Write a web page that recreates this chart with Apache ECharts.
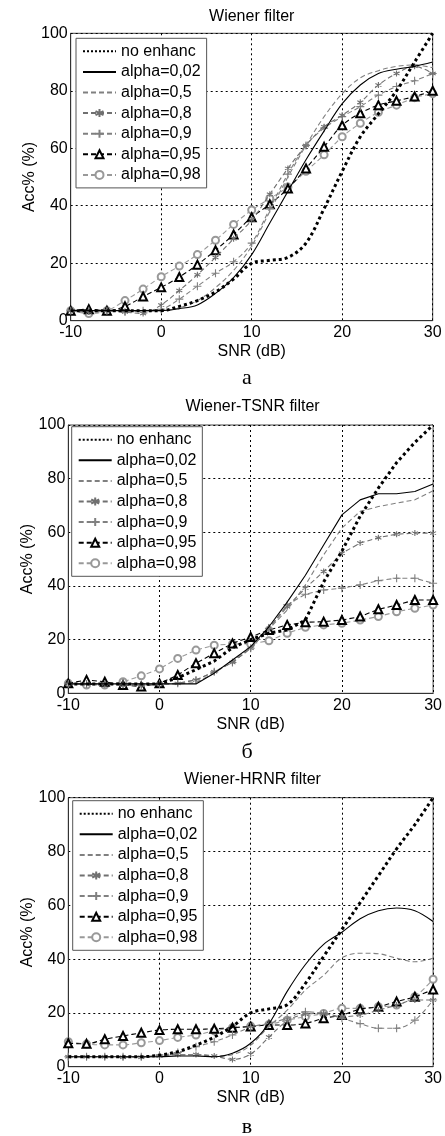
<!DOCTYPE html>
<html><head><meta charset="utf-8">
<script src="https://cdn.jsdelivr.net/npm/echarts@6/dist/echarts.min.js"></script>
<style>html,body{margin:0;padding:0;background:#fff}#c{width:445px;height:1136px}</style>
</head><body><div id="c"></div>
<script>
// ---- data ----
const snr = [-10,-8,-6,-4,-2,0,2,4,6,8,10,12,14,16,18,20,22,24,26,28,30];
const seriesNames = ['no enhanc','alpha=0,02','alpha=0,5','alpha=0,8','alpha=0,9','alpha=0,95','alpha=0,98'];
const panelTitles = ['Wiener filter','Wiener-TSNR filter','Wiener-HRNR filter'];
const captions = ['а','б','в'];
const xAxisName = 'SNR (dB)';
const yAxisName = 'Acc% (%)';

// Panel a: Wiener filter
const wNoEnh  = [3.5,3.5,3.5,3.5,3.5,3.5,5,7,10,14.5,20,21,22,27,39,52,64,72,80,90,100];
const wA002   = [3.5,3.5,3.5,3.5,3.5,3.5,4.2,5.5,9.5,15,23,34,45,56,66,75.5,82,86,87.5,88.5,90];
const wA05    = [3.5,3.5,3.5,3.5,3.5,3.5,4.5,7,11.5,17.5,26,38,50,61,71,79,84.5,87,88.5,89,88];
const wA08    = [3.5,3,3.5,3,2.5,5.5,10.5,16,22,28.5,35,44,53,61,67.5,71.5,76,82,86,88.5,86];
const wA09    = [3.5,3.5,3.5,3,3.5,4,7.5,12,16.5,20.5,27,39,51,61,67,71,74.5,78.5,81.5,83.5,86];
const wA095   = [3.5,4,3.5,5,8.4,11.6,15.2,19.5,24.5,30,36,40.5,46,53,60.5,68,72.2,75,76.5,78,80];
const wA098   = [3.5,2.5,3.5,7,11,15.3,19,23,28,33.5,38.5,42.5,46.5,52,57.7,64,68.7,72.5,75,77.6,79];

// Panel б: Wiener-TSNR filter
const tNoEnh  = [3.5,3.5,3.5,3.5,3.5,3.5,5.8,8.8,12,17,20,22.4,23.6,27.3,41.5,53,66,76.5,86,93.5,100];
const tA002   = [3.5,3.5,3.5,3.5,3.5,3.5,3.5,3.5,7.5,12.4,17.4,24.8,34,44,55.3,66.5,72.1,74.4,74.4,75.2,78];
const tA05    = [3.5,3.5,3.5,3.5,3.5,3.5,3.5,4,7.5,12,17,24,31,40.4,51.6,61.6,67.8,69.6,70.9,72.1,75.5];
const tA08    = [3.5,3.5,3.5,3,3,3.5,3.7,5,8,11.5,16.8,24.2,32.3,39.2,45.4,52.2,56,58,59.3,59.7,59.7];
const tA09    = [3.5,3.5,3.5,3.5,3,3.5,3.7,5,8,11.5,16.8,24.2,33,36.9,38.5,39.2,40.4,42,42.9,42.9,41];
const tA095   = [3.7,5,4.3,3.1,2.5,3.7,6.8,11.2,14.9,18.6,21,23.6,25.5,26.5,26.7,27.3,28.6,31.3,32.9,34.8,34.8];
const tA098   = [3.7,3.1,3.1,4.3,6.5,9.1,13,16.1,17.9,18.4,18.4,19.6,22.4,24.6,25.5,26.1,27.3,28.6,30.4,31.7,32.9];

// Panel в: Wiener-HRNR filter
const hNoEnh  = [3.7,3.7,3.7,3.7,3.7,4.3,5.6,8,11,15,20,21.5,23,31,41,51,61,71,81,90,100];
const hA002   = [3.7,3.7,3.7,3.7,3.7,3.7,4,4,3.7,5,8.7,16,28,38,45.5,50,55,58,59,58,54];
const hA05    = [3.7,3.7,3.7,3.7,3.7,4,4.5,4.5,4,4.5,8,15,21,28.5,34,40.5,42.2,42,40.3,39,40.3];
const hA08    = [3.7,3.7,3.7,3.5,3.5,4,4.5,4.5,4,2.7,4.7,11,17,19.5,19.8,18.6,19.2,21,22.9,24.8,24.8];
const hA09    = [3.7,3.7,3.7,3.7,3.7,4.3,5.3,7.4,9.3,11.8,14.8,16.1,18,20.4,19.8,18,16,14.3,14.3,17.3,24.8];
const hA095   = [8.7,8.5,10.2,11.4,12.6,13.6,13.9,13.9,14.1,14.5,14.9,15.5,15.5,16.1,18,19.2,21.4,22.3,24.2,26,28.7];
const hA098   = [9.3,8.4,8.1,8.1,8.9,9.7,10.9,11.8,13.3,14.5,15.1,15.7,17.3,18.6,19.8,21.7,21.7,22.3,22.9,26,32.5];

const panels = [
  [wNoEnh,wA002,wA05,wA08,wA09,wA095,wA098],
  [tNoEnh,tA002,tA05,tA08,tA09,tA095,tA098],
  [hNoEnh,hA002,hA05,hA08,hA09,hA095,hA098]
];

// ---- layout / style ----
const FONT = 'Liberation Sans, Arial, sans-serif';
const grids = [
  {left:70.7, top:33.3, width:362, height:287.4},
  {left:68.3, top:425, width:368.4, height:268.3},
  {left:68.3, top:797.7, width:368.4, height:269}
];
const legendPos = [{left:76, top:38.3},{left:71.7, top:426.7},{left:72.7, top:800.7}];
const titleY = [17, 407, 780];
const captionY = [378, 752, 1127];
const smoothing = [0.35, false, 0.35];

const NOSYM = 'path://M0,0L1,1';
const STAR = 'path://M5,0L5,10M0.67,2.5L9.33,7.5M0.67,7.5L9.33,2.5';
const PLUS = 'path://M0,5L10,5M5,0L5,10';
const styles = [
  {color:'#000', width:3, type:'dotted', symbol:NOSYM, hidden:true},
  {color:'#000', width:1.1, type:'solid', symbol:NOSYM, hidden:true},
  {color:'#808080', width:1.1, type:[5,3], symbol:NOSYM, hidden:true},
  {color:'#707070', width:1.1, type:[5,3], symbol:STAR, size:6, path:true},
  {color:'#808080', width:1.1, type:[5,3], symbol:PLUS, size:8, path:true},
  {color:'#000', width:1.1, type:[5,3], symbol:'emptyTriangle', size:8},
  {color:'#999', width:1.1, type:[5,3], symbol:'emptyCircle', size:7}
];

const series = [];
panels.forEach((arrs, p) => {
  arrs.forEach((arr, k) => {
    const st = styles[k];
    let itemStyle;
    if (st.hidden) itemStyle = {color:'rgba(0,0,0,0)', borderColor:'rgba(0,0,0,0)', borderWidth:0};
    else if (st.path) itemStyle = {color:'rgba(0,0,0,0)', borderColor: st.color, borderWidth: 1.1};
    else itemStyle = {color: st.color, borderColor: st.color, borderWidth: 1.1};
    series.push({
      name: seriesNames[k], type:'line', xAxisIndex:p, yAxisIndex:p,
      data: snr.map((x,i)=>[x, arr[i]]),
      smooth: smoothing[p],
      symbol: st.symbol, symbolSize: st.size || 1, showSymbol: !st.hidden,
      lineStyle: {color: st.color, width: st.width, type: st.type},
      itemStyle: itemStyle,
      emphasis: {disabled:true}, animation:false, z: 10 - k
    });
  });
});

const xAxes = grids.map((g,p)=>({
  gridIndex:p, type:'value', min:-10, max:30, interval:10,
  axisLine:{show:true, onZero:false, lineStyle:{color:'#333', width:1}},
  axisTick:{show:false},
  axisLabel:{fontSize:16, color:'#000', margin:4, fontFamily:FONT},
  splitLine:{show:true, lineStyle:{type:[2,3], color:'#000', width:1}},
  name: xAxisName, nameLocation:'middle', nameGap:23,
  nameTextStyle:{fontSize:16, color:'#000', fontFamily:FONT}
}));
const yAxes = grids.map((g,p)=>({
  gridIndex:p, type:'value', min:0, max:100, interval:20,
  axisLine:{show:true, onZero:false, lineStyle:{color:'#333', width:1}},
  axisTick:{show:false},
  axisLabel:{fontSize:16, color:'#000', margin:3, fontFamily:FONT},
  splitLine:{show:true, lineStyle:{type:[2,3], color:'#000', width:1}},
  name: yAxisName, nameLocation:'middle', nameGap:33, nameMoveOverlap:false,
  nameTextStyle:{fontSize:16, color:'#000', fontFamily:FONT}
}));

const legends = legendPos.map((lp,p)=>({
  data: seriesNames, orient:'vertical', left:lp.left, top:lp.top,
  itemWidth:33, itemHeight:10, itemGap:4.6,
  padding:[5,6,5,6],
  backgroundColor:'#fff', borderColor:'#555', borderWidth:1,
  textStyle:{fontSize:16, lineHeight:15.7, color:'#000', fontFamily:FONT},
  selectedMode:false
}));

const graphics = [];
grids.forEach((g,p)=>{
  graphics.push({type:'text', x: g.left + g.width/2, y: titleY[p],
    style:{text: panelTitles[p], fill:'#000', font:'16px '+FONT, align:'center', verticalAlign:'middle', textAlign:'center', textVerticalAlign:'middle'}});
  graphics.push({type:'text', x: 247, y: captionY[p],
    style:{text: captions[p], fill:'#000', font:'22px Liberation Serif, Times New Roman, serif', align:'center', verticalAlign:'middle', textAlign:'center', textVerticalAlign:'middle'}});
});

const chart = echarts.init(document.getElementById('c'), null, {renderer:'canvas'});
chart.setOption({
  animation:false,
  backgroundColor:'#fff',
  grid: grids.map(g=>Object.assign({show:true, borderColor:'#444', borderWidth:1, backgroundColor:'transparent', containLabel:false}, g)),
  xAxis: xAxes, yAxis: yAxes,
  legend: legends,
  series: series,
  graphic: graphics
});
</script></body></html>
